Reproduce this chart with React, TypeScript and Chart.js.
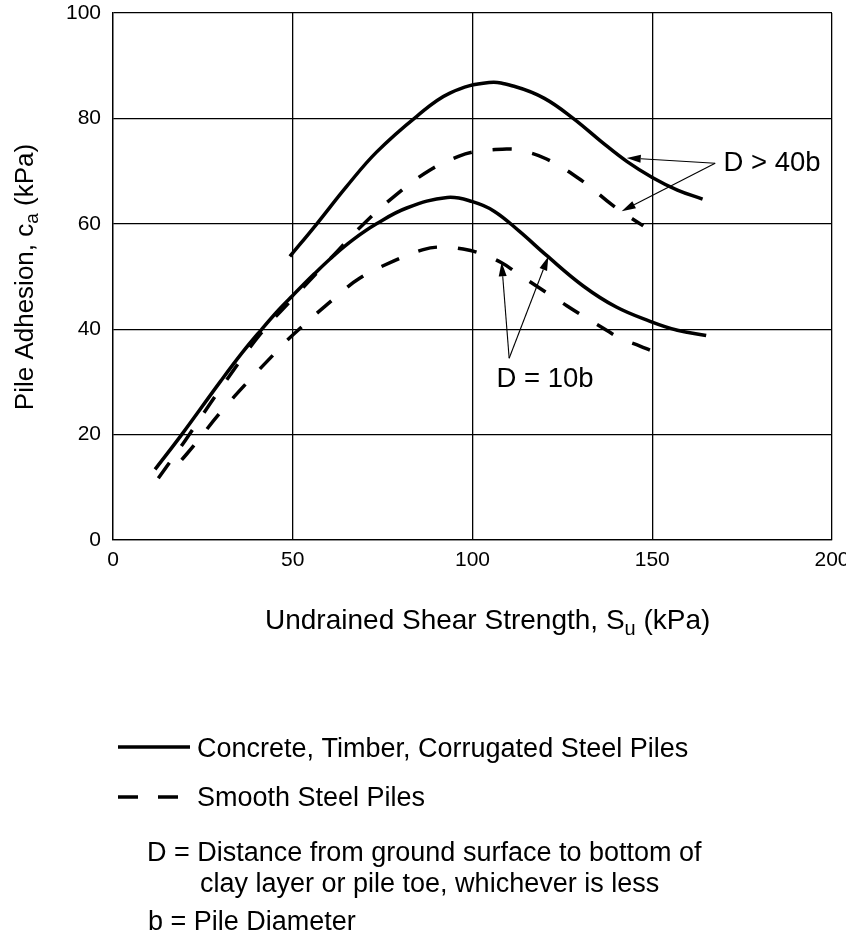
import React, { useEffect, useRef } from "react";
import { Chart, registerables } from "chart.js";

Chart.register(...registerables);

const FONT = "'Liberation Sans', Arial, Helvetica, sans-serif";

// Axis ranges / ticks
const xRange = [0, 200];
const xStep = 50;
const yRange = [0, 100];
const yStep = 20;

// Concrete, Timber, Corrugated Steel Piles, D > 40b (solid)
const concrete40X = [49.2, 56.7, 65.0, 73.3, 84.5, 93.7, 104.6, 112.0, 120.0, 128.0, 136.0, 143.0, 150.0, 157.0, 164.0];
const concrete40Y = [53.8, 60.0, 67.1, 73.6, 80.4, 84.8, 86.8, 86.0, 83.8, 80.0, 75.5, 71.8, 68.8, 66.4, 64.7];

// Smooth Steel Piles, D > 40b (dashed)
const smooth40X = [12.6, 20.0, 30.0, 40.9, 50.0, 56.0, 61.3, 68.7, 78.9, 88.2, 96.1, 101.0, 109.5, 113.0, 120.6, 130.4, 139.2, 147.5];
const smooth40Y = [11.7, 18.8, 28.8, 39.0, 45.8, 50.2, 54.0, 59.3, 65.6, 70.2, 72.8, 73.7, 74.2, 74.0, 72.3, 68.2, 63.4, 59.6];

// Concrete, Timber, Corrugated Steel Piles, D = 10b (solid)
const concrete10X = [11.7, 19.1, 30.0, 36.0, 41.0, 46.0, 50.0, 56.0, 61.3, 66.8, 73.3, 81.7, 93.0, 100.0, 106.0, 113.0, 120.6, 130.8, 140.0, 149.4, 157.0, 165.0];
const concrete10Y = [13.4, 20.0, 30.2, 35.6, 39.7, 43.6, 46.4, 50.5, 53.9, 57.0, 60.0, 63.0, 65.0, 64.2, 62.4, 58.6, 54.0, 48.2, 44.2, 41.5, 39.8, 38.8];

// Smooth Steel Piles, D = 10b (dashed)
const smooth10X = [19.1, 22.6, 29.5, 37.2, 45.1, 50.0, 61.3, 68.7, 78.0, 86.3, 91.4, 97.4, 102.6, 108.1, 112.3, 118.0, 125.0, 131.0, 136.4, 141.0, 146.6, 149.4];
const smooth10Y = [15.2, 18.0, 23.9, 29.8, 35.5, 38.9, 45.7, 49.7, 52.9, 55.1, 55.6, 55.2, 54.3, 52.6, 50.7, 48.1, 45.0, 42.4, 40.2, 38.3, 36.8, 36.0];

// Annotation labels and arrows (data units)
const label40 = { text: "D > 40b", x: 169.8, y: 70.0 };
const arrows40 = [
  { fromX: 167.5, fromY: 71.5, toX: 142.9, toY: 72.5 },
  { fromX: 167.5, fromY: 71.5, toX: 141.5, toY: 62.4 },
];
const label10 = { text: "D = 10b", x: 106.7, y: 29.1 };
const arrows10 = [
  { fromX: 110.2, fromY: 34.5, toX: 108.1, toY: 52.7 },
  { fromX: 110.2, fromY: 34.5, toX: 121.1, toY: 53.8 },
];

const xTitleParts = [
  { t: "Undrained Shear Strength, S" },
  { t: "u", sub: true },
  { t: " (kPa)" },
];
const yTitleParts = [
  { t: "Pile Adhesion, c" },
  { t: "a", sub: true },
  { t: " (kPa)" },
];
const legendSolidText = "Concrete, Timber, Corrugated Steel Piles";
const legendDashText = "Smooth Steel Piles";
const noteLines = [
  "D = Distance from ground surface to bottom of",
  "clay layer or pile toe, whichever is less",
  "b = Pile Diameter",
];

const zip = (xs: number[], ys: number[]) => xs.map((x, i) => ({ x, y: ys[i] }));

type Part = { t: string; sub?: boolean };

function partFont(size: number, sub?: boolean) {
  return `${sub ? Math.round(size * 0.72) : size}px ${FONT}`;
}
function richWidth(ctx: CanvasRenderingContext2D, parts: Part[], size: number) {
  let w = 0;
  for (const p of parts) {
    ctx.font = partFont(size, p.sub);
    w += ctx.measureText(p.t).width;
  }
  return w;
}
function drawRich(ctx: CanvasRenderingContext2D, parts: Part[], x: number, y: number, size: number) {
  let cx = x;
  ctx.textBaseline = "alphabetic";
  ctx.textAlign = "left";
  for (const p of parts) {
    ctx.font = partFont(size, p.sub);
    ctx.fillText(p.t, cx, y + (p.sub ? size * 0.2 : 0));
    cx += ctx.measureText(p.t).width;
  }
}

function drawArrow(ctx: CanvasRenderingContext2D, x1: number, y1: number, x2: number, y2: number) {
  const ang = Math.atan2(y2 - y1, x2 - x1);
  const len = 14;
  const hw = 4;
  const bx = x2 - len * Math.cos(ang);
  const by = y2 - len * Math.sin(ang);
  ctx.beginPath();
  ctx.moveTo(x1, y1);
  ctx.lineTo(bx, by);
  ctx.lineWidth = 1.1;
  ctx.strokeStyle = "#000";
  ctx.stroke();
  ctx.beginPath();
  ctx.moveTo(x2, y2);
  ctx.lineTo(bx + hw * Math.sin(ang), by - hw * Math.cos(ang));
  ctx.lineTo(bx - hw * Math.sin(ang), by + hw * Math.cos(ang));
  ctx.closePath();
  ctx.fillStyle = "#000";
  ctx.fill();
}

const decorPlugin = {
  id: "decor",
  afterDraw(chart: any) {
    const ctx: CanvasRenderingContext2D = chart.ctx;
    const xs = chart.scales.x;
    const ys = chart.scales.y;
    ctx.save();
    ctx.fillStyle = "#000";

    // annotation arrows + labels
    for (const a of [...arrows40, ...arrows10]) {
      drawArrow(ctx, xs.getPixelForValue(a.fromX), ys.getPixelForValue(a.fromY), xs.getPixelForValue(a.toX), ys.getPixelForValue(a.toY));
    }
    ctx.fillStyle = "#000";
    for (const l of [label40, label10]) {
      ctx.font = `27.5px ${FONT}`;
      ctx.textAlign = "left";
      ctx.textBaseline = "alphabetic";
      ctx.fillText(l.text, xs.getPixelForValue(l.x), ys.getPixelForValue(l.y));
    }

    // x title
    drawRich(ctx, xTitleParts, 265, 629, 28);

    // y title (rotated)
    const yw = richWidth(ctx, yTitleParts, 26);
    ctx.save();
    ctx.translate(33, 277);
    ctx.rotate(-Math.PI / 2);
    drawRich(ctx, yTitleParts, -yw / 2, 0, 26);
    ctx.restore();

    // legend
    ctx.strokeStyle = "#000";
    ctx.lineWidth = 3.5;
    ctx.setLineDash([]);
    ctx.beginPath();
    ctx.moveTo(118, 747);
    ctx.lineTo(190, 747);
    ctx.stroke();
    ctx.setLineDash([20, 20]);
    ctx.beginPath();
    ctx.moveTo(118, 797);
    ctx.lineTo(178, 797);
    ctx.stroke();
    ctx.setLineDash([]);

    ctx.font = `27px ${FONT}`;
    ctx.textAlign = "left";
    ctx.textBaseline = "alphabetic";
    ctx.fillText(legendSolidText, 197, 757);
    ctx.fillText(legendDashText, 197, 806);
    ctx.fillText(noteLines[0], 147, 861);
    ctx.fillText(noteLines[1], 200, 892);
    ctx.fillText(noteLines[2], 148, 930);
    ctx.restore();
  },
};

export default function App() {
  const ref = useRef<HTMLCanvasElement>(null);
  useEffect(() => {
    if (!ref.current) return;
    const lineBase = {
      borderColor: "#000",
      borderWidth: 3.5,
      pointRadius: 0,
      fill: false,
      tension: 0.4,
    };
    const chart = new Chart(ref.current, {
      type: "line",
      data: {
        datasets: [
          { ...lineBase, label: "Concrete D>40b", data: zip(concrete40X, concrete40Y) },
          { ...lineBase, label: "Smooth D>40b", data: zip(smooth40X, smooth40Y), borderDash: [19, 21] },
          { ...lineBase, label: "Concrete D=10b", data: zip(concrete10X, concrete10Y) },
          { ...lineBase, label: "Smooth D=10b", data: zip(smooth10X, smooth10Y), borderDash: [19, 21] },
        ],
      },
      options: {
        animation: false,
        responsive: false,
        devicePixelRatio: 1,
        layout: { padding: { top: 13, right: 14, left: 0, bottom: 939 - 540 - 40 } },
        plugins: { legend: { display: false }, tooltip: { enabled: false } },
        scales: {
          x: {
            type: "linear",
            min: xRange[0],
            max: xRange[1],
            ticks: { stepSize: xStep, color: "#000", font: { size: 21, family: FONT }, padding: 8, maxRotation: 0 },
            grid: { color: "#000", lineWidth: 1.3, drawTicks: false },
            border: { color: "#000", width: 1.3 },
            afterFit: (s: any) => {
              s.height = 40;
              s.paddingLeft = 0;
              s.paddingRight = 0;
            },
          },
          y: {
            type: "linear",
            min: yRange[0],
            max: yRange[1],
            ticks: { stepSize: yStep, color: "#000", font: { size: 21, family: FONT }, padding: 12 },
            grid: { color: "#000", lineWidth: 1.3, drawTicks: false },
            border: { color: "#000", width: 1.3 },
            afterFit: (s: any) => {
              s.width = 113;
              s.paddingTop = 0;
              s.paddingBottom = 0;
            },
          },
        },
      },
      plugins: [decorPlugin],
    });
    return () => chart.destroy();
  }, []);
  return (
    <div style={{ position: "fixed", left: 0, top: 0, width: 846, height: 939, background: "#fff" }}>
      <canvas ref={ref} width={846} height={939} style={{ width: 846, height: 939 }} />
    </div>
  );
}
